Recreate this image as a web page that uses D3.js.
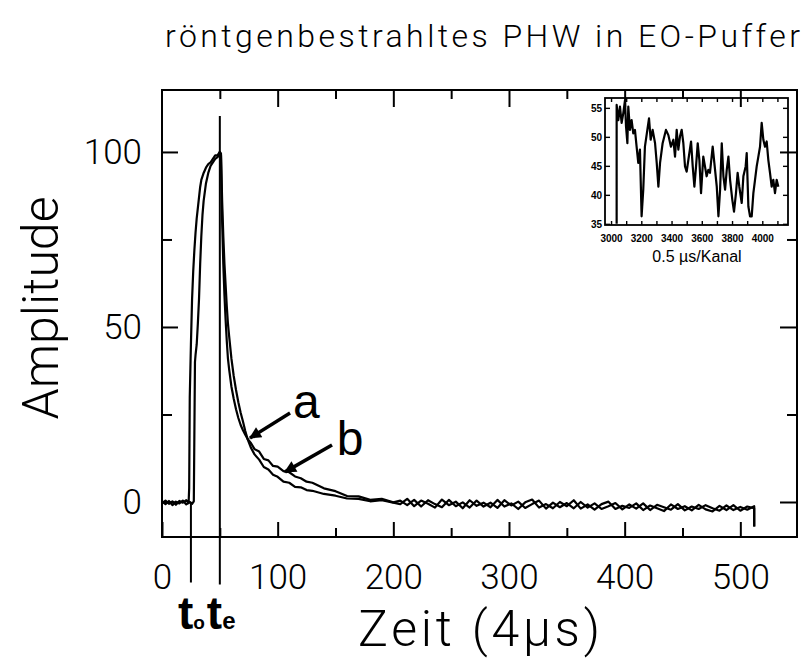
<!DOCTYPE html>
<html>
<head>
<meta charset="utf-8">
<script src="https://cdn.jsdelivr.net/npm/d3@7"></script>
<style>
  body { margin: 0; background: #fff; }
  svg { display: block; }
  .axis path.domain { display: none; }
  .axis line { stroke: #000; stroke-width: 2; }
  .axis text { font-family: Roboto, "Liberation Sans", sans-serif; font-weight: 300; fill: #000; }
  .inset .axis line { stroke-width: 1.4; }
  .inset .axis text { font-family: "Liberation Sans", Arial, sans-serif; font-weight: bold; font-size: 10px; }
</style>
</head>
<body>
<svg id="chart" width="805" height="663"></svg>
<script>
// Hauptdiagramm: Kanal (4 µs) gegen Amplitude, zwei Messkurven a und b
const kurveA = [
  [0, 0.2], [3, -0.6], [6, 0.3], [9, -0.9], [12, 0.1], [15, -0.4], [18, 0.4], [21, -0.7], [24, 0.0], [26, -0.5],
  [27.5, 0.2], [28, 20], [28.5, 40], [29, 42], [30, 45], [31, 51], [32, 58], [33, 68], [34, 76], [35, 82],
  [36, 86], [38, 91], [40, 94], [42, 96], [44, 97], [46, 98], [48, 98.5], [50, 100], [51, 99.5], [52, 86],
  [53, 76], [54, 68], [55, 62], [56, 56], [57, 51], [58, 47.5], [60, 41], [62, 36], [64, 32], [66, 28.5],
  [68, 25.5], [70, 23], [72, 20.3], [74, 18], [77, 15.4], [80, 13.6], [84, 12.1], [88, 10.0], [92, 9.3], [96, 7.8],
  [100, 7.2], [105, 5.8], [110, 5.5], [115, 4.3], [120, 4.2], [125, 3.4], [130, 3.2], [140, 2.3], [150, 1.8], [160, 1.0],
  [170, 0.9], [180, 0.2], [190, 0.5], [200, -0.2],
  [206, -0.6], [212, 0.9], [218, -1.2], [224, 0.4], [230, -0.5], [236, -1.6], [242, 0.7], [248, -0.9], [254, 0.1], [260, -1.8],
  [266, 0.5], [272, -1.1], [278, -0.2], [284, -1.5], [290, 0.6], [296, -1.3], [302, -0.4], [308, -2.0], [314, -0.1], [320, 0.7],
  [326, -1.6], [332, -0.6], [338, -1.8], [344, 0.0], [350, -1.2], [356, 0.5], [362, -1.9], [368, -0.7], [374, -2.2], [380, -0.6],
  [386, 0.1], [392, -2.0], [398, -1.1], [404, -1.7], [410, -0.4], [416, -2.3], [422, -1.0], [428, -1.8], [434, -2.6], [440, -0.7],
  [446, -2.0], [452, -1.2], [458, -2.4], [464, -0.8], [470, -2.1], [476, -2.7], [482, -1.1], [488, -2.3], [494, -0.9], [500, -2.5],
  [506, -1.3], [512, -1.8], [512, -7]
];
const kurveB = [
  [0, -0.3], [3, 0.4], [6, -0.5], [9, 0.2], [12, -0.8], [15, 0.3], [18, -0.2], [21, 0.5], [23, -0.3], [23.5, 4],
  [24, 30], [25, 45], [26, 58], [27, 66], [28, 72], [29, 77], [30, 81], [31, 84], [32, 87], [33, 90],
  [34, 92], [35, 93], [36, 94], [38, 95.5], [40, 96.5], [42, 97], [44, 98], [46, 99], [48, 99], [50, 100],
  [51, 99], [52, 80], [53, 68], [54, 59], [55, 52], [56, 46], [57, 41], [58, 38], [60, 33], [62, 29.5],
  [64, 26.5], [66, 24], [68, 22], [70, 20.5], [72, 19.2], [74, 18], [77, 16.8], [80, 15.1], [84, 14.4], [88, 12.3],
  [92, 11.9], [96, 10.3], [100, 10.1], [105, 8.8], [110, 8.5], [115, 7.3], [120, 6.8], [125, 5.8], [130, 5.5], [140, 3.9],
  [150, 3.1], [160, 1.7], [170, 1.6], [180, 0.6], [190, 0.9], [200, -0.1],
  [206, 0.4], [212, -0.9], [218, 0.6], [224, -1.3], [230, 0.5], [236, -0.6], [242, -1.5], [248, 0.6], [254, -1.2], [260, -0.1],
  [266, -1.6], [272, 0.4], [278, -1.3], [284, -0.2], [290, -1.7], [296, 0.5], [302, -1.0], [308, 0.1], [314, -1.7], [320, -0.6],
  [326, 0.4], [332, -1.9], [338, -0.2], [344, -1.5], [350, -0.3], [356, -1.8], [362, 0.0], [368, -1.6], [374, -0.4], [380, -2.0],
  [386, -1.2], [392, -0.3], [398, -2.1], [404, -0.7], [410, -1.9], [416, -0.4], [422, -2.3], [428, -0.8], [434, -1.5], [440, -2.2],
  [446, -0.6], [452, -2.4], [458, -1.3], [464, -2.0], [470, -0.9], [476, -1.8], [482, -2.5], [488, -1.0], [494, -2.3], [500, -1.4],
  [506, -2.2], [512, -1.2], [512, -7]
];

// Ausschnitt: Kanal 3000-4100 (0.5 µs/Kanal)
const ausschnitt = [
  [3037, 35], [3037, 55.5], [3048, 52.9], [3059, 55.2], [3070, 52.4], [3081, 54.1], [3092, 56.3], [3099, 51.8], [3108, 48.9], [3114, 55.2],
  [3125, 51.2], [3136, 52.9], [3147, 50.6], [3158, 51.2], [3169, 48.3], [3180, 45.5], [3191, 47.8], [3202, 36.3], [3213, 40.9], [3224, 48.3],
  [3240, 51.2], [3251, 53.2], [3262, 49.5], [3275, 51.2], [3291, 48.9], [3302, 45.5], [3313, 41.4], [3324, 45.5], [3341, 48.9], [3363, 51.2],
  [3379, 50.3], [3396, 48.3], [3412, 49.5], [3423, 46.6], [3434, 51.2], [3445, 47.8], [3456, 50.1], [3467, 51.2], [3478, 48.9], [3489, 44.9],
  [3500, 44.0], [3511, 46.0], [3529, 49.2], [3540, 44.9], [3551, 41.4], [3562, 44.9], [3573, 48.9], [3584, 46.0], [3595, 40.3], [3610, 46.6],
  [3621, 44.9], [3632, 43.2], [3643, 44.3], [3654, 43.8], [3672, 48.3], [3683, 45.5], [3699, 41.4], [3710, 36.3], [3721, 40.9], [3732, 48.9],
  [3743, 43.2], [3754, 40.9], [3765, 44.3], [3776, 46.6], [3787, 42.6], [3802, 39.1], [3813, 37.1], [3826, 40.3], [3837, 43.8], [3848, 41.4],
  [3864, 38.6], [3875, 43.2], [3890, 44.9], [3897, 47.2], [3908, 38.0], [3919, 36.3], [3930, 36.3], [3941, 40.3], [3952, 42.6], [3963, 44.9],
  [3974, 46.6], [3985, 48.3], [3996, 52.4], [4007, 49.5], [4018, 48.3], [4029, 49.2], [4040, 46.0], [4051, 43.8], [4062, 41.4], [4073, 42.6],
  [4084, 40.3], [4095, 42.6], [4106, 41.4]
];

const xHaupt = [0, 100, 200, 300, 400, 500];
const xNeben = [50, 150, 250, 350, 450];
const yHaupt = [0, 50, 100];
const yNeben = [25, 75];
const xAusTicks = [3000, 3100, 3200, 3300, 3400, 3500, 3600, 3700, 3800, 3900, 4000, 4100];
const xAusLabels = [3000, 3200, 3400, 3600, 3800, 4000];
const yAusLabels = [35, 40, 45, 50, 55];

// Zeitmarken t0, te (Kanal) und Pfeile [Ende, Spitze]
const t0 = 25, te = 50;
const pfeilA = [[110.7, 25.4], [76.1, 18.3]];
const pfeilB = [[147, 16.3], [106.4, 8.6]];

const svg = d3.select("#chart");

const x = d3.scaleLinear().domain([0, 549]).range([162, 797]);
const y = d3.scaleLinear().domain([-10, 117.7]).range([537, 90]);

svg.append("defs").append("marker")
  .attr("id", "spitze")
  .attr("viewBox", "0 0 10 10")
  .attr("refX", 9).attr("refY", 5)
  .attr("markerUnits", "userSpaceOnUse")
  .attr("markerWidth", 17).attr("markerHeight", 12)
  .attr("orient", "auto")
  .append("path").attr("d", "M0,0 L10,5 L0,10 Z").attr("fill", "#000");

// Titel
svg.append("text")
  .attr("x", 165).attr("y", 47)
  .attr("textLength", 635).attr("lengthAdjust", "spacing")
  .style("font-family", "Roboto, 'Liberation Sans', sans-serif")
  .style("font-weight", 300)
  .style("font-size", "32px")
  .text("röntgenbestrahltes PHW in EO-Puffer");

// Achsen
const unten = svg.append("g").attr("class", "axis").attr("transform", `translate(0,${y(-10)})`);
unten.call(d3.axisBottom(x).tickValues(xHaupt).tickSize(-15).tickSizeOuter(0).tickPadding(27).tickFormat(d3.format("d")));
unten.append("g").call(d3.axisBottom(x).tickValues(xNeben).tickSize(-9).tickSizeOuter(0).tickFormat(""));
unten.selectAll("text").style("font-size", "35px");

const oben = svg.append("g").attr("class", "axis").attr("transform", `translate(0,${y(117.7)})`);
oben.call(d3.axisTop(x).tickValues(xHaupt.slice(1)).tickSize(-17).tickSizeOuter(0).tickFormat(""));
oben.append("g").call(d3.axisTop(x).tickValues(xNeben).tickSize(-9).tickSizeOuter(0).tickFormat(""));

const links = svg.append("g").attr("class", "axis").attr("transform", `translate(${x(0)},0)`);
links.call(d3.axisLeft(y).tickValues(yHaupt).tickSize(-16).tickSizeOuter(0).tickPadding(20).tickFormat(d3.format("d")));
links.append("g").call(d3.axisLeft(y).tickValues(yNeben).tickSize(-10).tickSizeOuter(0).tickFormat(""));
links.selectAll("text").style("font-size", "35px");

const rechts = svg.append("g").attr("class", "axis").attr("transform", `translate(${x(549)},0)`);
rechts.call(d3.axisRight(y).tickValues(yHaupt).tickSize(-17).tickSizeOuter(0).tickFormat(""));
rechts.append("g").call(d3.axisRight(y).tickValues(yNeben).tickSize(-10).tickSizeOuter(0).tickFormat(""));

svg.append("rect")
  .attr("x", x(0)).attr("y", y(117.7))
  .attr("width", x(549) - x(0)).attr("height", y(-10) - y(117.7))
  .attr("fill", "none").attr("stroke", "#000").attr("stroke-width", 2);

// Achsentitel
svg.append("text")
  .attr("transform", "translate(58,308) rotate(-90)")
  .attr("text-anchor", "middle")
  .style("font-family", "Roboto, 'Liberation Sans', sans-serif")
  .style("font-weight", 300)
  .style("font-size", "50px")
  .text("Amplitude");

svg.append("text")
  .attr("x", 358).attr("y", 646)
  .attr("textLength", 242).attr("lengthAdjust", "spacing")
  .style("font-family", "Roboto, 'Liberation Sans', sans-serif")
  .style("font-weight", 300)
  .style("font-size", "50px")
  .text("Zeit (4µs)");

// Kurven
const linie = d3.line().x(d => x(d[0])).y(d => y(d[1]));
svg.selectAll("path.kurve")
  .data([kurveA, kurveB])
  .join("path")
    .attr("class", "kurve")
    .attr("d", linie)
    .attr("fill", "none")
    .attr("stroke", "#000")
    .attr("stroke-width", 2.2)
    .attr("stroke-linejoin", "round");

// Zeitmarken
svg.append("line")
  .attr("x1", x(t0)).attr("x2", x(t0))
  .attr("y1", y(0)).attr("y2", y(-23))
  .attr("stroke", "#000").attr("stroke-width", 2);
svg.append("line")
  .attr("x1", x(te)).attr("x2", x(te))
  .attr("y1", y(110.3)).attr("y2", y(-23.6))
  .attr("stroke", "#000").attr("stroke-width", 2);

const marke = (kanal, sub, subSize) => {
  const t = svg.append("text")
    .attr("x", x(kanal) - 13).attr("y", 629)
    .style("font-family", "'Liberation Sans Narrow', 'Liberation Sans', sans-serif")
    .style("font-weight", "bold");
  t.append("tspan").style("font-size", "46px").text("t");
  t.append("tspan").style("font-size", subSize).text(sub);
};
marke(t0, "o", "19px");
marke(te, "e", "24px");

// Pfeile und Beschriftung a, b
svg.selectAll("line.pfeil")
  .data([pfeilA, pfeilB])
  .join("line")
    .attr("class", "pfeil")
    .attr("x1", d => x(d[0][0])).attr("y1", d => y(d[0][1]))
    .attr("x2", d => x(d[1][0])).attr("y2", d => y(d[1][1]))
    .attr("stroke", "#000").attr("stroke-width", 3.5)
    .attr("marker-end", "url(#spitze)");

svg.append("text")
  .attr("x", x(113.3)).attr("y", y(24))
  .style("font-family", "'Liberation Sans', sans-serif")
  .style("font-size", "48px")
  .text("a");
svg.append("text")
  .attr("x", x(151)).attr("y", y(13.4))
  .style("font-family", "'Liberation Sans', sans-serif")
  .style("font-size", "48px")
  .text("b");

// Ausschnitt (Inset)
const xi = d3.scaleLinear().domain([2960, 4170]).range([605, 788]);
const yi = d3.scaleLinear().domain([34.8, 56.7]).range([225, 98]);
const inset = svg.append("g").attr("class", "inset");

const iu = inset.append("g").attr("class", "axis").attr("transform", `translate(0,${yi(34.8)})`);
iu.call(d3.axisBottom(xi).tickValues(xAusTicks.filter(v => v < 4170)).tickSize(-4).tickSizeOuter(0).tickFormat(""));
iu.append("g").call(d3.axisBottom(xi).tickValues(xAusLabels).tickSize(0).tickPadding(10).tickFormat(d3.format("d")));

const io = inset.append("g").attr("class", "axis").attr("transform", `translate(0,${yi(56.7)})`);
io.call(d3.axisTop(xi).tickValues(xAusTicks.filter(v => v < 4170)).tickSize(-4).tickSizeOuter(0).tickFormat(""));

const il = inset.append("g").attr("class", "axis").attr("transform", `translate(${xi(2960)},0)`);
il.call(d3.axisLeft(yi).tickValues(yAusLabels).tickSize(-5).tickSizeOuter(0).tickPadding(3).tickFormat(d3.format("d")));

const ir = inset.append("g").attr("class", "axis").attr("transform", `translate(${xi(4170)},0)`);
ir.call(d3.axisRight(yi).tickValues(yAusLabels).tickSize(-5).tickSizeOuter(0).tickFormat(""));

inset.append("rect")
  .attr("x", xi(2960)).attr("y", yi(56.7))
  .attr("width", xi(4170) - xi(2960)).attr("height", yi(34.8) - yi(56.7))
  .attr("fill", "none").attr("stroke", "#000").attr("stroke-width", 1.8);

inset.append("path")
  .attr("d", d3.line().x(d => xi(d[0])).y(d => yi(d[1]))(ausschnitt))
  .attr("fill", "none").attr("stroke", "#000").attr("stroke-width", 2.2)
  .attr("stroke-linejoin", "round");

inset.append("text")
  .attr("x", 697).attr("y", 262)
  .attr("text-anchor", "middle")
  .style("font-family", "'Liberation Sans', sans-serif")
  .style("font-size", "16px")
  .text("0.5 µs/Kanal");
</script>
</body>
</html>
